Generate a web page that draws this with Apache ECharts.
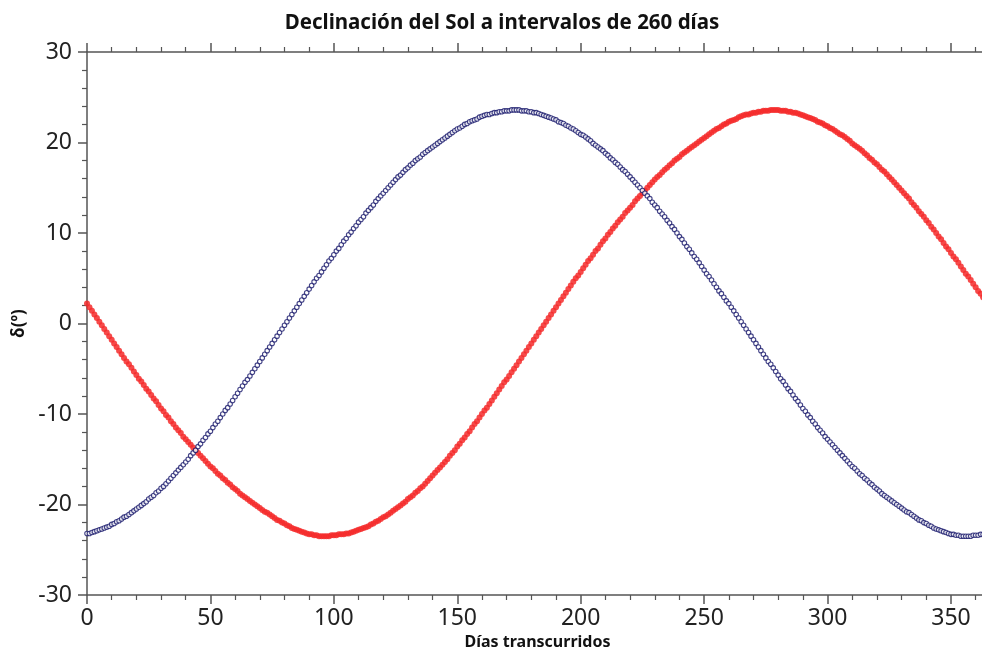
<!DOCTYPE html>
<html>
<head>
<meta charset="utf-8">
<script src="https://cdn.jsdelivr.net/npm/echarts@6/dist/echarts.min.js"></script>
<style>
html,body{margin:0;padding:0;background:#fff;}
#chart{width:982px;height:649px;}
</style>
</head>
<body>
<div id="chart"></div>
<script>
// Solar declination (degrees), one value per calendar day
const decJan = [-23.1,-23.0,-22.9,-22.8,-22.7,-22.6,-22.5,-22.4,-22.2,-22.1,-21.9,-21.8,-21.6,-21.4,-21.3,-21.1,-20.9,-20.7,-20.5,-20.3,-20.1,-19.9,-19.7,-19.4,-19.2,-19.0,-18.7,-18.5,-18.2,-18.0,-17.7];
const decFeb = [-17.4,-17.1,-16.8,-16.5,-16.2,-15.9,-15.6,-15.3,-15.0,-14.6,-14.3,-14.0,-13.6,-13.3,-12.9,-12.6,-12.2,-11.9,-11.5,-11.1,-10.8,-10.4,-10.0,-9.6,-9.3,-8.9,-8.5,-8.1];
const decMar = [-7.7,-7.3,-6.9,-6.5,-6.2,-5.8,-5.4,-5.0,-4.6,-4.2,-3.8,-3.4,-3.0,-2.6,-2.2,-1.8,-1.4,-1.0,-0.6,-0.2,0.2,0.6,1.0,1.4,1.8,2.2,2.6,3.0,3.4,3.8,4.2];
const decApr = [4.6,5.0,5.3,5.7,6.1,6.5,6.9,7.2,7.6,8.0,8.3,8.7,9.1,9.4,9.8,10.1,10.5,10.8,11.2,11.5,11.8,12.2,12.5,12.8,13.1,13.5,13.8,14.1,14.4,14.7];
const decMay = [15.0,15.3,15.6,15.9,16.2,16.4,16.7,17.0,17.2,17.5,17.7,18.0,18.2,18.4,18.7,18.9,19.1,19.3,19.5,19.7,19.9,20.1,20.3,20.5,20.7,20.9,21.1,21.3,21.5,21.6,21.8];
const decJun = [22.0,22.1,22.3,22.4,22.5,22.6,22.8,22.9,23.0,23.1,23.1,23.2,23.3,23.3,23.4,23.4,23.5,23.5,23.5,23.6,23.6,23.6,23.6,23.5,23.5,23.5,23.4,23.4,23.3,23.3];
const decJul = [23.2,23.1,23.0,22.9,22.8,22.7,22.6,22.5,22.3,22.2,22.1,21.9,21.8,21.6,21.5,21.3,21.1,20.9,20.8,20.6,20.4,20.2,19.9,19.7,19.5,19.3,19.1,18.8,18.6,18.3,18.1];
const decAug = [17.8,17.6,17.3,17.0,16.8,16.5,16.2,15.9,15.6,15.3,15.0,14.7,14.4,14.1,13.8,13.4,13.1,12.8,12.4,12.1,11.8,11.4,11.1,10.7,10.4,10.0,9.6,9.3,8.9,8.5,8.2];
const decSep = [7.8,7.4,7.1,6.7,6.3,5.9,5.5,5.2,4.8,4.4,4.0,3.6,3.3,2.9,2.5,2.2,1.8,1.4,1.0,0.6,0.2,-0.2,-0.6,-1.0,-1.4,-1.8,-2.2,-2.6,-3.0,-3.4];
const decOct = [-3.8,-4.2,-4.5,-4.9,-5.3,-5.7,-6.1,-6.4,-6.8,-7.2,-7.5,-7.9,-8.3,-8.6,-9.0,-9.4,-9.7,-10.1,-10.4,-10.8,-11.1,-11.5,-11.8,-12.1,-12.5,-12.8,-13.1,-13.4,-13.7,-14.0,-14.3];
const decNov = [-14.6,-14.9,-15.2,-15.5,-15.8,-16.0,-16.3,-16.6,-16.8,-17.1,-17.3,-17.6,-17.8,-18.1,-18.3,-18.5,-18.8,-19.0,-19.2,-19.4,-19.6,-19.8,-20.0,-20.2,-20.4,-20.6,-20.8,-20.9,-21.1,-21.3];
const decDec = [-21.5,-21.7,-21.8,-22.0,-22.1,-22.3,-22.4,-22.6,-22.7,-22.8,-22.9,-23.0,-23.1,-23.2,-23.3,-23.3,-23.4,-23.4,-23.5,-23.5,-23.5,-23.5,-23.5,-23.4,-23.4,-23.4,-23.3,-23.3,-23.3,-23.2,-23.2];

const START_INDEX = 363;     // day 0 of the plot = 30 Dec in the yearly table
const INTERVAL_DAYS = 260;   // second series: same table 260 days later
const N_DAYS = 366;          // plotted days 0..365

const xTicks = [0, 50, 100, 150, 200, 250, 300, 350];
const yTicks = [-30, -20, -10, 0, 10, 20, 30];

const titleText = 'Declinación del Sol a intervalos de 260 días';
const xName = 'Días transcurridos';
const yName = 'δ(º)';

const yearDecl = [].concat(decJan, decFeb, decMar, decApr, decMay, decJun, decJul, decAug, decSep, decOct, decNov, decDec);
const Y = yearDecl.length;
const blueData = [], redData = [];
for (let d = 0; d < N_DAYS; d++) {
  blueData.push([d, yearDecl[(d + START_INDEX) % Y]]);
  redData.push([d, yearDecl[(d + START_INDEX + INTERVAL_DAYS) % Y]]);
}

const chart = echarts.init(document.getElementById('chart'), null, {renderer: 'canvas'});
const axisColor = '#555';
const font = '"Noto Sans", "DejaVu Sans", sans-serif';

const xBase = {
  type: 'value', min: 0, max: 365, interval: 50,
  axisLine: {show: true, onZero: false, lineStyle: {color: axisColor, width: 1.5}},
  axisTick: {show: true, inside: false, length: 9, lineStyle: {color: axisColor, width: 1.5}},
  minorTick: {show: true, splitNumber: 5, length: 5, lineStyle: {color: axisColor, width: 1.2}},
  splitLine: {show: false}, minorSplitLine: {show: false}
};

chart.setOption({
  animation: false,
  backgroundColor: '#fff',
  title: {
    text: titleText, left: 497, top: 8, textAlign: 'center',
    textStyle: {fontFamily: font, fontSize: 20.5, fontWeight: 'bold', color: '#111'}
  },
  grid: {left: 87, top: 52, bottom: 54, right: -6, containLabel: false, outerBoundsMode: 'none'},
  xAxis: [
    Object.assign({}, xBase, {
      position: 'bottom',
      name: xName, nameLocation: 'middle', nameGap: 33,
      nameTextStyle: {fontFamily: font, fontSize: 16, fontWeight: 'bold', color: '#111'},
      axisLabel: {show: true, margin: 12, fontFamily: font, fontSize: 23, color: '#222',
        formatter: v => xTicks.indexOf(v) >= 0 ? String(v) : ''}
    }),
    Object.assign({}, xBase, {position: 'top', axisLabel: {show: false}})
  ],
  yAxis: {
    type: 'value', min: -30, max: 30, interval: 10,
    name: yName, nameLocation: 'middle', nameGap: 55, nameRotate: 90,
    nameTextStyle: {fontFamily: font, fontSize: 17, fontWeight: 'bold', color: '#111'},
    axisLine: {show: true, onZero: false, lineStyle: {color: axisColor, width: 1.5}},
    axisTick: {show: true, length: 9, lineStyle: {color: axisColor, width: 1.5}},
    minorTick: {show: true, splitNumber: 5, length: 5, lineStyle: {color: axisColor, width: 1.2}},
    splitLine: {show: false},
    axisLabel: {margin: 15, fontFamily: font, fontSize: 23, color: '#222',
      formatter: v => yTicks.indexOf(v) >= 0 ? String(v) : ''}
  },
  series: [
    {
      type: 'scatter', name: 'desplazada', data: redData,
      symbol: 'circle', symbolSize: 6,
      itemStyle: {color: '#f52a2a', opacity: 0.85},
      clip: true, z: 2
    },
    {
      type: 'scatter', name: 'declinación', data: blueData,
      symbol: 'circle', symbolSize: 4.5,
      itemStyle: {color: '#ffffff', borderColor: '#16166a', borderWidth: 1.1},
      clip: true, z: 3
    }
  ]
});
</script>
</body>
</html>
